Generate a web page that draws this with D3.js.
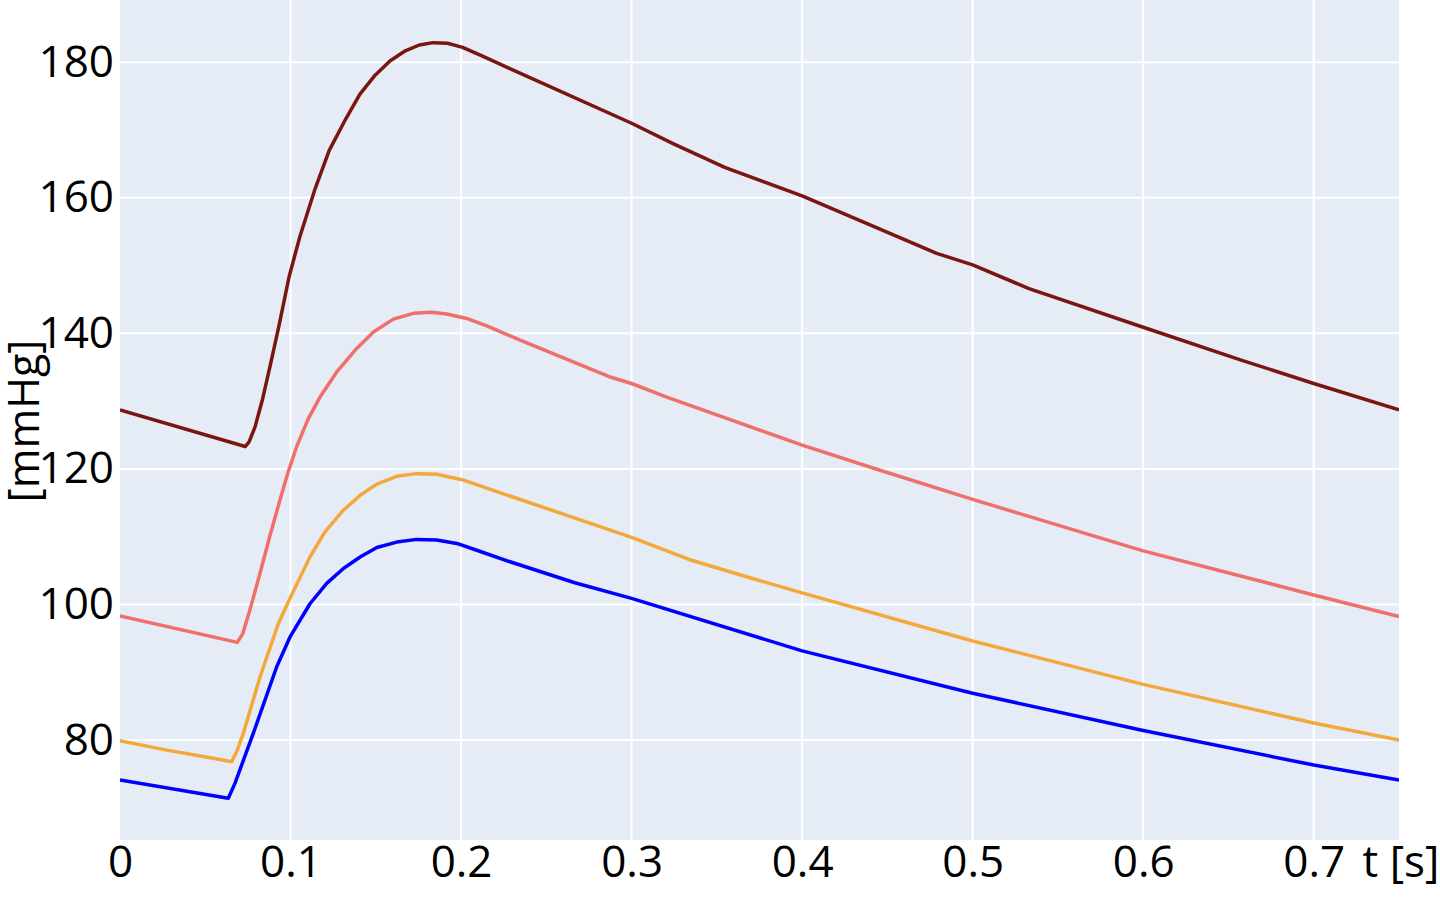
<!DOCTYPE html>
<html>
<head>
<meta charset="utf-8">
<script src="https://cdn.jsdelivr.net/npm/d3@7"></script>
<style>
  body { margin: 0; background: #fff; }
  svg text { font-family: "Open Sans", "Noto Sans", sans-serif; fill: #000; }
</style>
</head>
<body>
<div id="chart"></div>
<script>
// pressure curves [mmHg] over one cardiac cycle
var tDark = [0, 0.0734, 0.0757, 0.0792, 0.0835, 0.0884, 0.0933, 0.0992, 0.1055, 0.1145, 0.1227, 0.1325, 0.1407, 0.1496, 0.1583, 0.1673, 0.1755, 0.1836, 0.192, 0.2009, 0.2126, 0.2283, 0.3, 0.3243, 0.3546, 0.4, 0.4789, 0.5, 0.533, 0.6, 0.657, 0.7, 0.75];
var pDark = [128.7, 123.3, 124.0, 126.2, 130.2, 135.6, 141.2, 148.4, 154.3, 161.4, 167.0, 171.7, 175.3, 178.1, 180.2, 181.7, 182.55, 182.9, 182.8, 182.2, 180.9, 179.1, 171.0, 168.0, 164.5, 160.3, 151.8, 150.1, 146.6, 140.9, 136.1, 132.6, 128.7];

var tSalmon = [0, 0.0688, 0.072, 0.0762, 0.0821, 0.088, 0.0938, 0.0987, 0.1036, 0.1105, 0.1173, 0.1271, 0.1378, 0.1486, 0.1603, 0.172, 0.1828, 0.1916, 0.2033, 0.2151, 0.2346, 0.2869, 0.3, 0.3206, 0.4, 0.442, 0.5, 0.6, 0.7, 0.75];
var pSalmon = [98.3, 94.4, 95.7, 99.2, 104.6, 110.2, 115.4, 119.6, 123.3, 127.45, 130.6, 134.3, 137.5, 140.2, 142.1, 142.95, 143.1, 142.85, 142.2, 141.1, 139.0, 133.6, 132.6, 130.6, 123.5, 120.1, 115.5, 107.9, 101.4, 98.2];

var tOrange = [0, 0.0274, 0.0547, 0.0655, 0.0684, 0.0723, 0.0821, 0.0929, 0.0997, 0.1114, 0.1202, 0.131, 0.1408, 0.1506, 0.1623, 0.174, 0.1857, 0.2014, 0.2287, 0.3, 0.3341, 0.3645, 0.4, 0.5, 0.6, 0.7, 0.75];
var pOrange = [79.9, 78.5, 77.3, 76.8, 78.25, 80.96, 89.3, 97.2, 100.9, 107.0, 110.7, 113.9, 116.1, 117.75, 118.9, 119.3, 119.2, 118.35, 116.0, 109.9, 106.6, 104.3, 101.7, 94.6, 88.2, 82.5, 80.0];

var tBlue = [0, 0.0635, 0.0674, 0.0782, 0.0919, 0.0997, 0.1114, 0.1212, 0.131, 0.1408, 0.1506, 0.1623, 0.174, 0.1857, 0.1975, 0.2092, 0.2287, 0.2667, 0.3, 0.4, 0.5, 0.6, 0.7, 0.75];
var pBlue = [74.1, 71.4, 73.6, 81.0, 90.8, 95.2, 100.1, 103.1, 105.3, 107.0, 108.4, 109.2, 109.6, 109.5, 109.0, 108.0, 106.3, 103.2, 100.9, 93.15, 86.9, 81.4, 76.3, 74.1];

var xTicks = [0, 0.1, 0.2, 0.3, 0.4, 0.5, 0.6, 0.7];
var yTicks = [80, 100, 120, 140, 160, 180];

var series = [
    {t: tDark, p: pDark, color: "#7a1610"},
    {t: tSalmon, p: pSalmon, color: "#ef6f6b"},
    {t: tOrange, p: pOrange, color: "#f3a83b"},
    {t: tBlue, p: pBlue, color: "#0000ff"}
];

var width = 1440, height = 898;
var plotLeft = 120, plotRight = 1399, plotTop = 0, plotBottom = 840;

var svg = d3.select("#chart").append("svg")
    .attr("width", width)
    .attr("height", height);

var x = d3.scaleLinear().domain([0, 0.75]).range([plotLeft, plotRight]);
var y = d3.scaleLinear().domain([65.24, 189.19]).range([plotBottom, plotTop]);

svg.append("rect")
    .attr("x", plotLeft).attr("y", plotTop)
    .attr("width", plotRight - plotLeft).attr("height", plotBottom - plotTop)
    .attr("fill", "#e5ecf6");

// grid
svg.append("g").selectAll("line").data(xTicks.slice(1)).enter().append("line")
    .attr("x1", function(d){ return x(d); }).attr("x2", function(d){ return x(d); })
    .attr("y1", plotTop).attr("y2", plotBottom)
    .attr("stroke", "#fff").attr("stroke-width", 2);
svg.append("g").selectAll("line").data(yTicks).enter().append("line")
    .attr("x1", plotLeft).attr("x2", plotRight)
    .attr("y1", function(d){ return y(d); }).attr("y2", function(d){ return y(d); })
    .attr("stroke", "#fff").attr("stroke-width", 2);

svg.append("clipPath").attr("id", "plotclip").append("rect")
    .attr("x", plotLeft).attr("y", plotTop)
    .attr("width", plotRight - plotLeft).attr("height", plotBottom - plotTop);

var line = d3.line()
    .x(function(d){ return x(d[0]); })
    .y(function(d){ return y(d[1]); });

svg.append("g").attr("clip-path", "url(#plotclip)")
    .selectAll("path").data(series).enter().append("path")
    .attr("d", function(s){ return line(d3.zip(s.t, s.p)); })
    .attr("fill", "none")
    .attr("stroke", function(s){ return s.color; })
    .attr("stroke-width", 3.5)
    .attr("stroke-linejoin", "round");

// axes
var xAxis = svg.append("g")
    .attr("transform", "translate(0," + plotBottom + ")")
    .call(d3.axisBottom(x).tickValues(xTicks).tickSize(0).tickPadding(0)
        .tickFormat(function(d){ return d === 0 ? "0" : d3.format(".1f")(d); }));
xAxis.select(".domain").remove();
xAxis.selectAll("text")
    .attr("y", 22).attr("dy", "0.35em")
    .style("font-size", "44px");

var yAxis = svg.append("g")
    .attr("transform", "translate(" + plotLeft + ",0)")
    .call(d3.axisLeft(y).tickValues(yTicks).tickSize(0).tickPadding(6));
yAxis.select(".domain").remove();
yAxis.selectAll("text")
    .style("font-size", "44px");

svg.append("text")
    .attr("x", 1401).attr("y", 862).attr("dy", "0.35em")
    .attr("text-anchor", "middle")
    .style("font-size", "44px")
    .text("t [s]");

svg.append("text")
    .attr("transform", "translate(24,421) rotate(-90)")
    .attr("dy", "0.35em")
    .attr("text-anchor", "middle")
    .style("font-size", "43px")
    .text("[mmHg]");
</script>
</body>
</html>
